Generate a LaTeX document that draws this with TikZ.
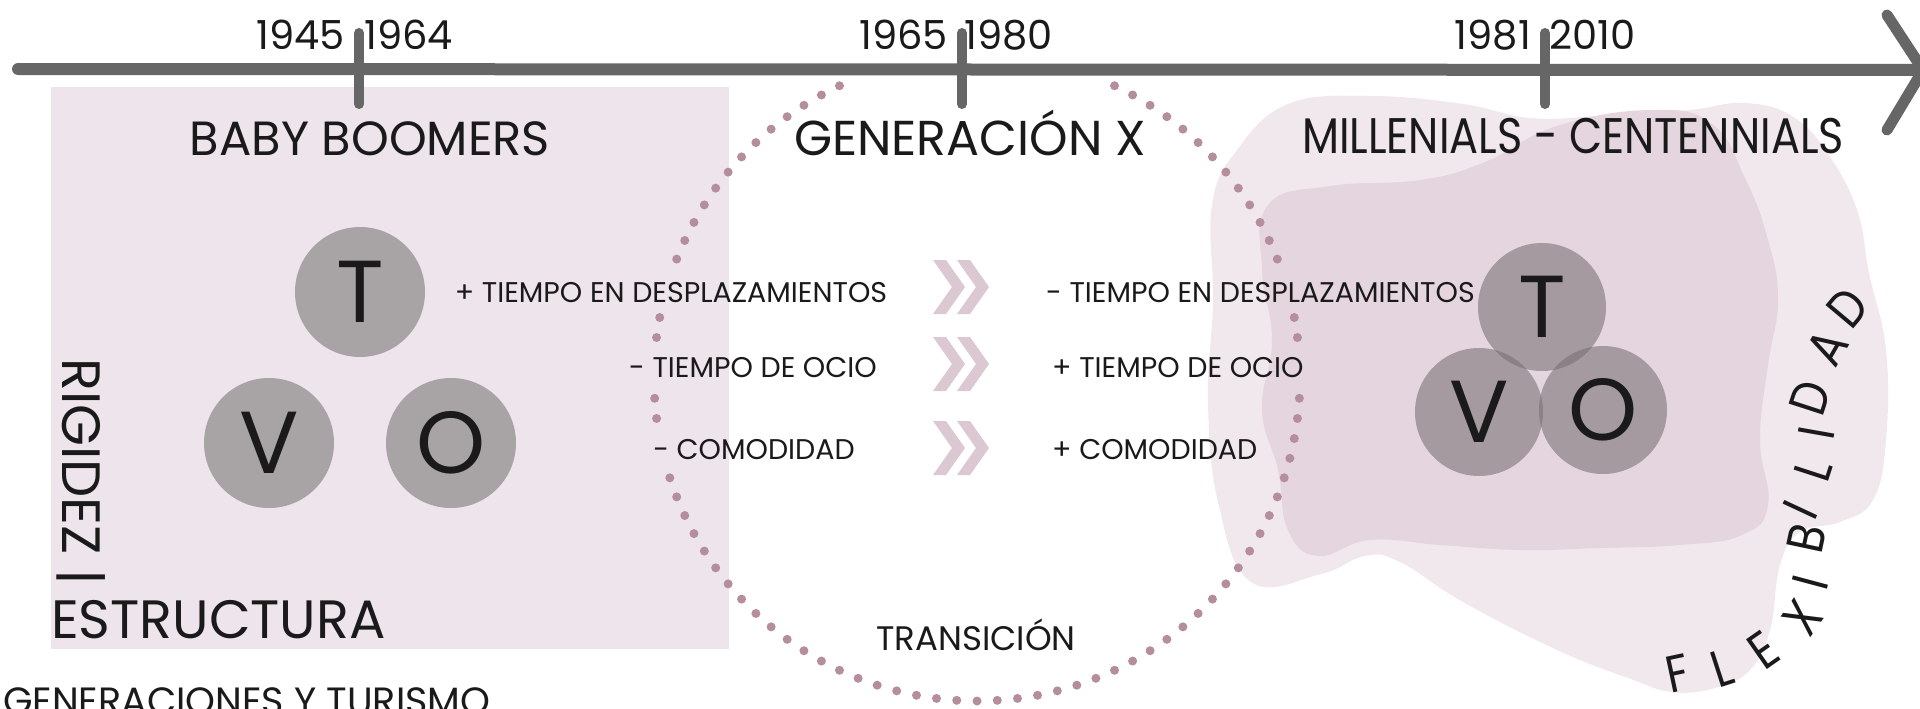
\documentclass[tikz,border=0pt]{standalone}
\usepackage{fontspec}
\setmainfont{Poppins}
\newfontfamily\condfont{Poppins}[FakeStretch=0.86]
\definecolor{tl}{HTML}{666666}
\definecolor{rectpink}{HTML}{EEE4EB}
\definecolor{blobdark}{HTML}{E5D5DE}
\definecolor{bloblight}{HTML}{F1E8EE}
\definecolor{dotc}{HTML}{B58E9D}
\definecolor{chev}{HTML}{DCC8D2}
\definecolor{circl}{HTML}{A8A4A6}
\definecolor{circr}{HTML}{767074}
\definecolor{txt}{HTML}{1A1A1A}
\tikzset{
  yearlbl/.style={inner sep=0pt, text=txt, font=\fontsize{40}{44}\selectfont},
  heading/.style={inner sep=0pt, text=txt, font=\fontsize{48}{52}\selectfont},
  rowtxt/.style={inner sep=0pt, text=txt, font=\fontsize{28.5}{32}\selectfont},
  bigletter/.style={inner sep=0pt, text=txt, font=\fontsize{88}{90}\selectfont},
  sidetxt/.style={inner sep=0pt, text=txt, font=\fontsize{54}{58}\selectfont},
  flexletter/.style={inner sep=0pt, text=txt, font=\condfont\fontsize{52}{54}\selectfont},
  tline/.style={draw=tl, line width=12pt, line cap=round, line join=round},
  tick/.style={draw=tl, line width=10pt, line cap=round},
  chevshape/.style={fill=chev},
  tvoleft/.style={circle, fill=circl, minimum size=130pt, inner sep=0pt},
  tvoright/.style={circle, fill=circr, fill opacity=0.58, minimum size=128pt, inner sep=0pt},
}
\newcommand{\chevpair}[2]{%
  \fill[chevshape] (#1,#2-27) -- (#1+13,#2-27) -- (#1+32,#2) -- (#1+13,#2+27) -- (#1,#2+27) -- (#1+19,#2) -- cycle;
  \fill[chevshape] (#1+24,#2-27) -- (#1+37,#2-27) -- (#1+56,#2) -- (#1+37,#2+27) -- (#1+24,#2+27) -- (#1+43,#2) -- cycle;
}
\begin{document}
\begin{tikzpicture}[x=1pt,y=-1pt]
\useasboundingbox (0,0) rectangle (1920,709);
\fill[white] (0,0) rectangle (1920,709);
\begin{scope}
\clip (0,0) rectangle (1920,709);

% pink rectangle (baby boomers)
\fill[rectpink] (51,87) rectangle (729,649);

% blobs (millenials)
\fill[bloblight] plot[smooth cycle, tension=0.7] coordinates {
 (1212,205) (1237,150) (1288,104) (1370,96) (1463,104) (1530,118) (1600,116)
 (1689,110) (1746,103) (1795,118) (1832,160) (1858,213) (1869,273) (1886,350)
 (1886,440) (1873,500) (1840,522) (1800,532) (1780,565) (1770,630) (1750,670)
 (1715,688) (1672,692) (1628,678) (1557,650) (1463,602) (1400,562) (1365,556)
 (1321,574) (1251,582) (1218,502) (1208,401) (1213,301)};
\fill[blobdark] plot[smooth cycle, tension=0.75] coordinates {
 (1268,205) (1330,186) (1420,180) (1485,162) (1557,126) (1652,110) (1712,124)
 (1745,178) (1768,240) (1778,300) (1768,365) (1760,440) (1768,505) (1742,535)
 (1680,545) (1600,548) (1520,550) (1440,545) (1370,540) (1318,556) (1288,530)
 (1278,470) (1262,410) (1272,340) (1262,270)};

% dotted circle (transicion)
\foreach \k in {0,...,99}{
  \pgfmathsetmacro\ang{270+3.6*\k}
  \pgfmathsetmacro\px{977+323*cos(\ang)}
  \pgfmathsetmacro\py{378-323*sin(\ang)}
  \pgfmathtruncatemacro\ta{mod(\ang,360)}
  \pgfmathtruncatemacro\hide{((\ta>66)&&(\ta<114)) || ((\py>262)&&(\py<306)) || ((\py>342)&&(\py<388)) || ((\py>426)&&(\py<460)&&(\px<977))}
  \ifnum\hide=0 \fill[dotc] (\px,\py) circle (4.5); \fi
}

% timeline
\coordinate (tlstart) at (18,69);
\coordinate (tltip) at (1923,70);
\coordinate (chevtop) at (1887,15);
\coordinate (chevbot) at (1887,130);
\draw[tline] (tlstart) -- (tltip);
\draw[tline, line width=11pt] (chevtop) -- (tltip) -- (chevbot);
\coordinate (t1a) at (359,33); \coordinate (t1b) at (359,104);
\coordinate (t2a) at (962,33); \coordinate (t2b) at (962,104);
\coordinate (t3a) at (1545,33); \coordinate (t3b) at (1545,104);
\draw[tick] (t1a) -- (t1b);
\draw[tick] (t2a) -- (t2b);
\draw[tick] (t3a) -- (t3b);

% years
\node[yearlbl, anchor=base east] (y1945) at (345,50) {1945};
\node[yearlbl, anchor=base west] (y1964) at (364,50) {1964};
\node[yearlbl, anchor=base east] (y1965) at (948,50) {1965};
\node[yearlbl, anchor=base west] (y1980) at (964,50) {1980};
\node[yearlbl, anchor=base east] (y1981) at (1531,50) {1981};
\node[yearlbl, anchor=base west] (y2010) at (1549,50) {2010};

% headings
\node[heading, anchor=base] (hbb) at (370,155) {BABY BOOMERS};
\node[heading, font=\fontsize{49}{52}\selectfont, anchor=base] (hgx) at (970,155) {GENERACIÓN X};
\node[heading, font=\condfont\fontsize{50}{52}\selectfont, anchor=base] (hmc) at (1573,153) {MILLENIALS - CENTENNIALS};

% left TVO
\node[tvoleft] (lt) at (360,292) {};
\node[tvoleft] (lv) at (269,443) {};
\node[tvoleft] (lo) at (451,443) {};
\node[bigletter] at (lt) {T};
\node[bigletter] at (lv) {V};
\node[bigletter] at (lo) {O};

% right TVO
\node[tvoright] (rt) at (1542,307) {};
\node[tvoright] (rv) at (1479,412) {};
\node[tvoright] (ro) at (1603,410) {};
\node[bigletter] at (rt) {T};
\node[bigletter] at (rv) {V};
\node[bigletter] at (ro) {O};

% rows
\node[rowtxt, anchor=base] (l1) at (671,302) {+ TIEMPO EN DESPLAZAMIENTOS};
\node[rowtxt, anchor=base] (l2) at (753,377) {- TIEMPO DE OCIO};
\node[rowtxt, anchor=base] (l3) at (754,459) {- COMODIDAD};
\node[rowtxt, anchor=base west] (r1) at (1046,302) {- TIEMPO EN DESPLAZAMIENTOS};
\node[rowtxt, anchor=base west] (r2) at (1052,377) {+ TIEMPO DE OCIO};
\node[rowtxt, anchor=base west] (r3) at (1052,459) {+ COMODIDAD};
\chevpair{933}{287}
\chevpair{933}{364}
\chevpair{933}{448}

% transition label
\node[rowtxt, font=\fontsize{34}{36}\selectfont, anchor=base] (trans) at (976,650) {TRANSICIÓN};

% rigidez / estructura
\node[sidetxt, anchor=base west, rotate=-90] (rig) at (62,358) {RIGIDEZ |};
\node[sidetxt, anchor=base west] (est) at (51,638) {ESTRUCTURA};

% footer
\node[yearlbl, font=\fontsize{38}{40}\selectfont, anchor=base west] (foot) at (3,714) {GENERACIONES Y TURISMO};

% flexibilidad
\node[flexletter, rotate=12] (f1) at (1678,673) {F};
\node[flexletter, rotate=18] (f2) at (1722,668) {L};
\node[flexletter, rotate=35] (f3) at (1763,650) {E};
\node[flexletter, rotate=55] (f4) at (1803,618) {X};
\node[flexletter, rotate=75] (f5) at (1810,582) {I};
\node[flexletter, rotate=78] (f6) at (1807,538) {B};
\node[flexletter, rotate=65] (f7) at (1800,510) {I};
\node[flexletter, rotate=72] (f8) at (1813,470) {L};
\node[flexletter, rotate=80] (f9) at (1817,433) {I};
\node[flexletter, rotate=72] (f10) at (1810,398) {D};
\node[flexletter, rotate=60] (f11) at (1827,347) {A};
\node[flexletter, rotate=50] (f12) at (1848,308) {D};
\end{scope}
\end{tikzpicture}
\end{document}
